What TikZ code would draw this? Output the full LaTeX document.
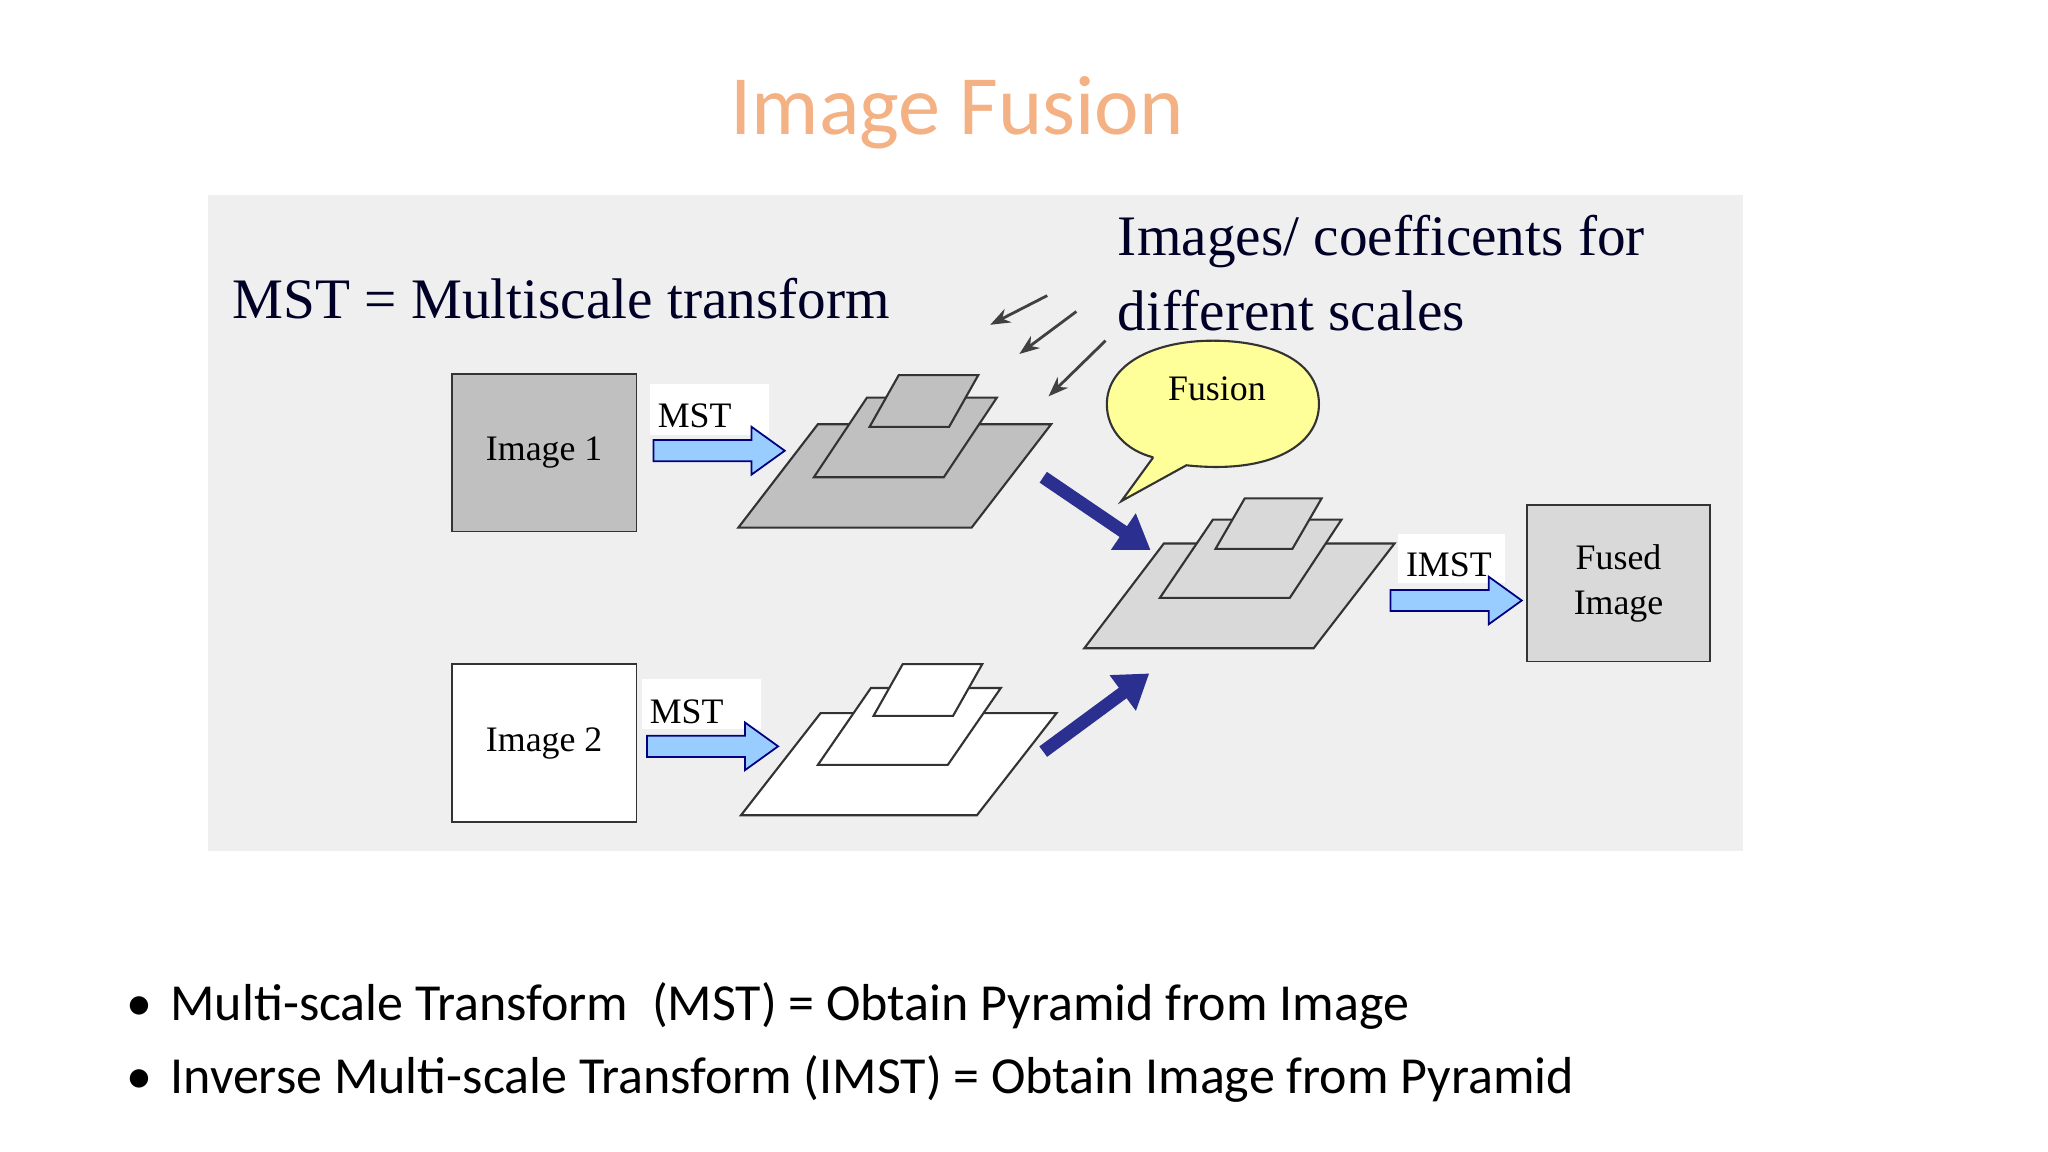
\documentclass[tikz,border=0pt]{standalone}
\usepackage{fontspec}
\setmainfont{Liberation Serif}
\newfontfamily\calfont{Carlito}
\usetikzlibrary{arrows.meta,shapes.geometric}
\definecolor{paper}{HTML}{EFEFEF}
\definecolor{lblue}{HTML}{99CCFF}
\definecolor{navy}{HTML}{2B2F8F}
\definecolor{ttl}{HTML}{F4B183}
\definecolor{gbox}{HTML}{C0C0C0}
\definecolor{gfuse}{HTML}{D9D9D9}
\definecolor{bub}{HTML}{FFFF99}
\tikzset{
 lay/.style={draw=black!80,line width=0.6pt},
 lbarrow/.pic={\draw[fill=lblue,draw=blue!50!black,line width=0.5pt] (0,-8)--(74,-8)--(74,-18)--(99,0)--(74,18)--(74,8)--(0,8)--cycle;},
 darr/.style={navy,line width=0.13cm,-{Triangle[length=0.33cm,width=0.42cm]}},
 thinarr/.style={black!75,line width=0.8pt,-{Stealth[length=0.2cm]}},
 lbl/.style={font=\fontsize{16.3}{18}\selectfont,text=black!70!blue!50!black},
 nlbl/.style={font=\fontsize{10.2}{13}\selectfont}
}
\begin{document}
\begin{tikzpicture}[x=0.013256cm,y=-0.013256cm]
\useasboundingbox[fill=white] (0,0) rectangle (1545,869);
\fill[paper] (157,147) rectangle (1315,642);
\node[text=ttl,font=\calfont\fontsize{24}{28}\selectfont] (title) at (722,85) {Image Fusion};
\node[lbl,anchor=west] (mst) at (166,225) {MST = Multiscale transform};
\node[lbl,anchor=west] (coef1) at (834,182) {Images/ coefficents for};
\node[lbl,anchor=west] (coef2) at (834,234) {different scales};
% boxes
\node[draw=black!80,fill=gbox,minimum width=139*0.013256cm,minimum height=119*0.013256cm,nlbl] (im1) at (410.5,341.5) {Image 1};
\node[draw=black!80,fill=white,minimum width=139*0.013256cm,minimum height=119*0.013256cm,nlbl] (im2) at (410.5,560.5) {Image 2};
\node[draw=black!80,fill=gfuse,minimum width=138*0.013256cm,minimum height=118*0.013256cm,nlbl,align=center] (fu) at (1221,440) {Fused\\Image};
% pyramids
\draw[lay,fill=gbox] (557,398)--(733,398)--(793,320)--(617,320)--cycle;
\draw[lay,fill=gbox] (614,360)--(712,360)--(752,300)--(654,300)--cycle;
\draw[lay,fill=gbox] (656,322)--(716,322)--(738,283)--(678,283)--cycle;
\draw[lay,fill=white] (559,615)--(737,615)--(797,538)--(619,538)--cycle;
\draw[lay,fill=white] (617,577)--(715,577)--(755,519)--(657,519)--cycle;
\draw[lay,fill=white] (659,540)--(719,540)--(741,501)--(681,501)--cycle;
\draw[lay,fill=gfuse] (818,489)--(991,489)--(1052,410)--(878,410)--cycle;
\draw[lay,fill=gfuse] (875,451)--(973,451)--(1012,392)--(915,392)--cycle;
\draw[lay,fill=gfuse] (917,414)--(975,414)--(997,376)--(939,376)--cycle;
% light arrows
\fill[white] (490,290) rectangle (580,328);
\fill[white] (484,512) rectangle (574,550);
\fill[white] (1055,403) rectangle (1135,440);
\pic at (493,340) {lbarrow};
\pic at (488,563) {lbarrow};
\pic at (1049,453) {lbarrow};
\node[nlbl] (m1) at (524,314) {MST};
\node[nlbl] (m2) at (518,537) {MST};
\node[nlbl] (m3) at (1093,426) {IMST};
% dark arrows
\coordinate (d1a) at (787,360); \coordinate (d1b) at (868,415);
\coordinate (d2a) at (787,567); \coordinate (d2b) at (867,508);
\draw[darr] (d1a)--(d1b);
\draw[darr] (d2a)--(d2b);
% thin arrows
\coordinate (t1a) at (790,223); \coordinate (t1b) at (747,245);
\coordinate (t2a) at (812,235); \coordinate (t2b) at (769,267);
\coordinate (t3a) at (834,257); \coordinate (t3b) at (791,299);
\draw[thinarr] (t1a)--(t1b);
\draw[thinarr] (t2a)--(t2b);
\draw[thinarr] (t3a)--(t3b);
% bubble
\draw[draw=black!80,fill=bub,line width=0.6pt] (870,345) -- (846,378) -- (895,351) .. controls (960,358) and (995,335) .. (995,305) .. controls (995,270) and (955,257) .. (915,257) .. controls (870,257) and (835,275) .. (835,305) .. controls (835,325) and (850,340) .. (870,345);
\node[nlbl] (fus) at (918,293) {Fusion};
% bullets
\node[anchor=west,font=\calfont\fontsize{14.8}{18}\selectfont] (b1) at (86,759) {\textbullet\hspace{0.35em}Multi-scale Transform\ \ (MST) = Obtain Pyramid from Image};
\node[anchor=west,font=\calfont\fontsize{14.8}{18}\selectfont] (b2) at (86,814) {\textbullet\hspace{0.35em}Inverse Multi-scale Transform (IMST) = Obtain Image from Pyramid};
\end{tikzpicture}
\end{document}
